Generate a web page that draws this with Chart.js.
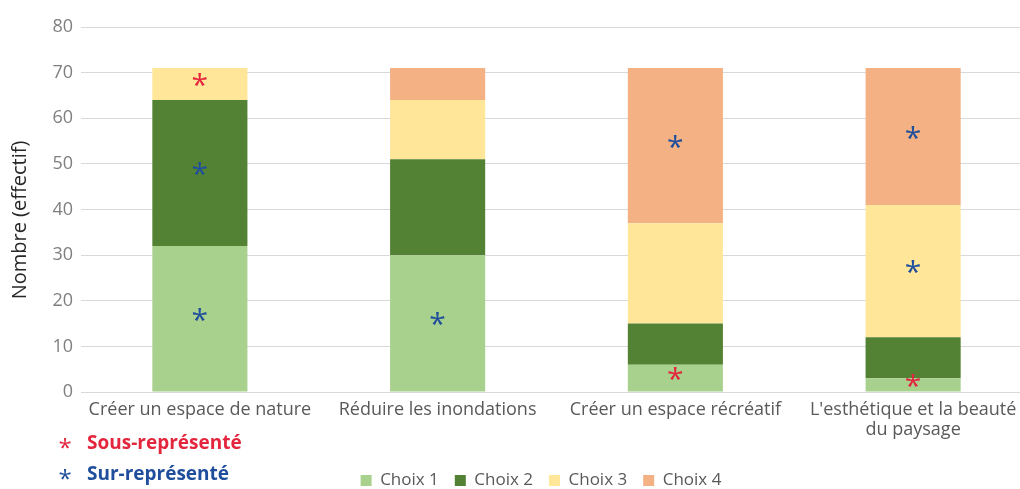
<!DOCTYPE html>
<html lang="fr">
<head>
<meta charset="utf-8">
<title>Nombre (effectif)</title>
<script src="https://cdn.jsdelivr.net/npm/chart.js@4.4.1/dist/chart.umd.min.js"></script>
<style>
  html, body { margin: 0; padding: 0; background: #fff; overflow: hidden; }
  #cadre { width: 1034px; height: 489px; }
</style>
</head>
<body>
<div id="cadre"><canvas id="graphe" width="1034" height="489"></canvas></div>
<script>
// Catégories et effectifs par choix
const categories = [
  "Créer un espace de nature",
  "Réduire les inondations",
  "Créer un espace récréatif",
  ["L'esthétique et la beauté", "du paysage"]
];
const series = ["Choix 1", "Choix 2", "Choix 3", "Choix 4"];
const choix1 = [32, 30, 6, 3];
const choix2 = [32, 21, 9, 9];
const choix3 = [7, 13, 22, 29];
const choix4 = [0, 7, 34, 30];
const axeMin = 0;
const axeMax = 80;
const axePas = 10;

// Sur/sous-représentation par choix et par catégorie
const marques1 = ["sur", "sur", "sous", "sous"];
const marques2 = ["sur", null, null, null];
const marques3 = ["sous", null, null, "sur"];
const marques4 = [null, null, "sur", "sur"];
const cles = ["Sous-représenté", "Sur-représenté"];
const titreY = "Nombre (effectif)";

const couleurs = ["#a9d18e", "#548235", "#ffe699", "#f4b183"];
const rouge = "#e3263d";
const bleu = "#1f4e9c";
const police = "'Open Sans', 'Noto Sans', sans-serif";

const etoiles = {
  id: "etoiles",
  afterLayout(chart) {
    // légende centrée sous les barres
    const lg = chart.legend;
    const dx = 541 - (lg.left + lg.right) / 2;
    lg.left += dx;
    lg.right += dx;
    lg.top += 10;
    lg.bottom += 10;
  },
  afterDatasetsDraw(chart) {
    const ctx = chart.ctx;
    const marques = [marques1, marques2, marques3, marques4];
    ctx.save();
    ctx.font = "30px " + police;
    ctx.textAlign = "center";
    ctx.textBaseline = "alphabetic";
    marques.forEach(function(serie, i) {
      chart.getDatasetMeta(i).data.forEach(function(barre, j) {
        if (!serie[j]) return;
        ctx.fillStyle = serie[j] === "sous" ? rouge : bleu;
        const cy = (barre.y + barre.base) / 2;
        ctx.fillText("*", barre.x, cy + 11);
      });
    });

    // titre de l'axe vertical
    ctx.save();
    ctx.translate(20, 220);
    ctx.rotate(-Math.PI / 2);
    ctx.fillStyle = "#262626";
    ctx.font = "20px " + police;
    ctx.textBaseline = "middle";
    ctx.fillText(titreY, 0, 0);
    ctx.restore();

    // clé des astérisques en bas à gauche
    [[rouge, 444], [bleu, 475]].forEach(function(c, k) {
      ctx.fillStyle = c[0];
      ctx.font = "24px " + police;
      ctx.textAlign = "center";
      ctx.textBaseline = "alphabetic";
      ctx.fillText("*", 65, c[1] + 12);
      ctx.font = "bold 19px " + police;
      ctx.textAlign = "left";
      ctx.textBaseline = "middle";
      ctx.fillText(cles[k], 87, c[1]);
    });
    ctx.restore();
  }
};

const jeux = [choix1, choix2, choix3, choix4].map(function(v, i) {
  return {
    label: series[i],
    data: v,
    backgroundColor: couleurs[i],
    barPercentage: 0.4,
    categoryPercentage: 1
  };
});

new Chart(document.getElementById("graphe"), {
  type: "bar",
  data: { labels: categories, datasets: jeux },
  options: {
    responsive: false,
    animation: false,
    layout: { padding: { top: 27, right: 2, left: 0, bottom: 0 } },
    plugins: {
      tooltip: { enabled: false },
      legend: {
        position: "bottom",
        labels: {
          boxWidth: 11,
          boxHeight: 11,
          padding: 16,
          color: "#595959",
          font: { family: police, size: 17 }
        }
      }
    },
    scales: {
      x: {
        stacked: true,
        grid: { display: false },
        border: { display: false },
        ticks: {
          color: "#595959",
          padding: 0,
          maxRotation: 0,
          autoSkip: false,
          font: { family: police, size: 18, lineHeight: 1.1 }
        },
        afterFit: function(s) { s.height = 489 - 392 - s.chart.legend.height; }
      },
      y: {
        stacked: true,
        min: axeMin,
        max: axeMax,
        grid: { color: "#d9d9d9", drawTicks: false },
        border: { display: false },
        ticks: {
          stepSize: axePas,
          padding: 8,
          color: "#7f7f7f",
          font: { family: police, size: 18 }
        },
        afterFit: function(s) { s.width = 81; }
      }
    }
  },
  plugins: [etoiles]
});
</script>
</body>
</html>
